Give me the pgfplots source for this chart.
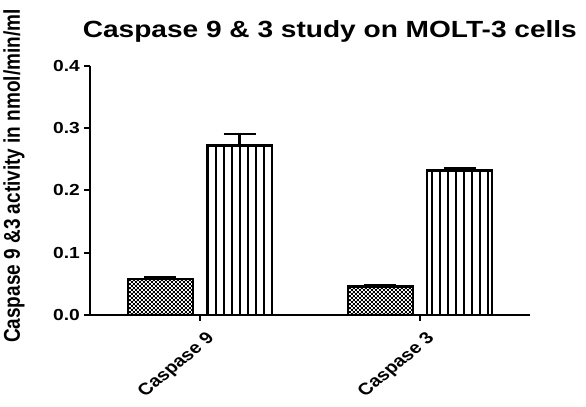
\documentclass[border=0pt]{standalone}
\usepackage{pgfplots}
\pgfplotsset{compat=1.18}
\usepackage{fontspec}
\setmainfont{Liberation Sans}[FakeStretch=1.2]
\newfontfamily\plainfont{Liberation Sans}
\usetikzlibrary{patterns,patterns.meta}
\pgfdeclarepatternformonly{finecheck}{\pgfpointorigin}{\pgfqpoint{4.4pt}{4.4pt}}{\pgfqpoint{4.4pt}{4.4pt}}{%
  \pgfpathrectangle{\pgfpointorigin}{\pgfqpoint{2.2pt}{2.2pt}}%
  \pgfpathrectangle{\pgfqpoint{2.2pt}{2.2pt}}{\pgfqpoint{2.2pt}{2.2pt}}%
  \pgfusepath{fill}}
\begin{document}
\begin{tikzpicture}
\begin{axis}[
  scale only axis, width=440pt, height=249pt,
  at={(0,0)}, anchor=south west,
  xmin=-0.5, xmax=1.5, ymin=0, ymax=0.4,
  axis x line=bottom, axis y line=left,
  axis line style={-, line width=2.2pt},
  xtick={0,1}, xticklabels={Caspase 9, Caspase 3},
  ytick={0,0.1,0.2,0.3,0.4},
  /pgf/number format/assume math mode=true,
  tick align=outside, major tick length=6pt,
  tick style={line width=2pt, black},
  yticklabel style={font=\bfseries\fontsize{16}{16}\selectfont, inner sep=2pt, xshift=-2pt,
    /pgf/number format/fixed, /pgf/number format/fixed zerofill, /pgf/number format/precision=1},
  xticklabel style={font=\plainfont\bfseries\fontsize{16.6}{16.6}\selectfont, xscale=1.2, rotate=45, anchor=north east, inner sep=1pt, yshift=-9pt, xshift=-3pt},
  ylabel={\scalebox{1}[1.2]{Caspase 9 \&3 activity in nmol/min/ml}},
  ylabel style={at={(axis description cs:-0.173,0.558)}, rotate=0, anchor=center, font=\plainfont\bfseries\fontsize{19}{19}\selectfont},
  title={Caspase 9 \& 3 study on MOLT-3 cells},
  title style={at={(axis description cs:0.545,1)}, anchor=center, yshift=29pt, font=\bfseries\fontsize{23.4}{23.4}\selectfont},
  ybar, bar width=0.295,
  clip=false,
]
\addplot[ybar, bar shift=-0.18, draw=black, line width=2.5pt,
  pattern=finecheck, pattern color=black,
  error bars/.cd, y dir=plus, y explicit,
  error bar style={line width=2.5pt, black},
  error mark options={line width=2.5pt, mark size=16pt, black, rotate=90}]
  coordinates {(0,0.058) +- (0,0.002) (1,0.046) +- (0,0.002)};
\addplot[ybar, bar shift=0.18, draw=black, line width=2.5pt,
  pattern={Lines[angle=90, distance=8pt, line width=1.4pt]}, pattern color=black,
  error bars/.cd, y dir=plus, y explicit,
  error bar style={line width=2.5pt, black},
  error mark options={line width=2.5pt, mark size=16pt, black, rotate=90}]
  coordinates {(0,0.272) +- (0,0.019) (1,0.232) +- (0,0.003)};
\end{axis}
\path (-90pt,-92pt) rectangle ++(586pt,407pt);
\end{tikzpicture}
\end{document}
